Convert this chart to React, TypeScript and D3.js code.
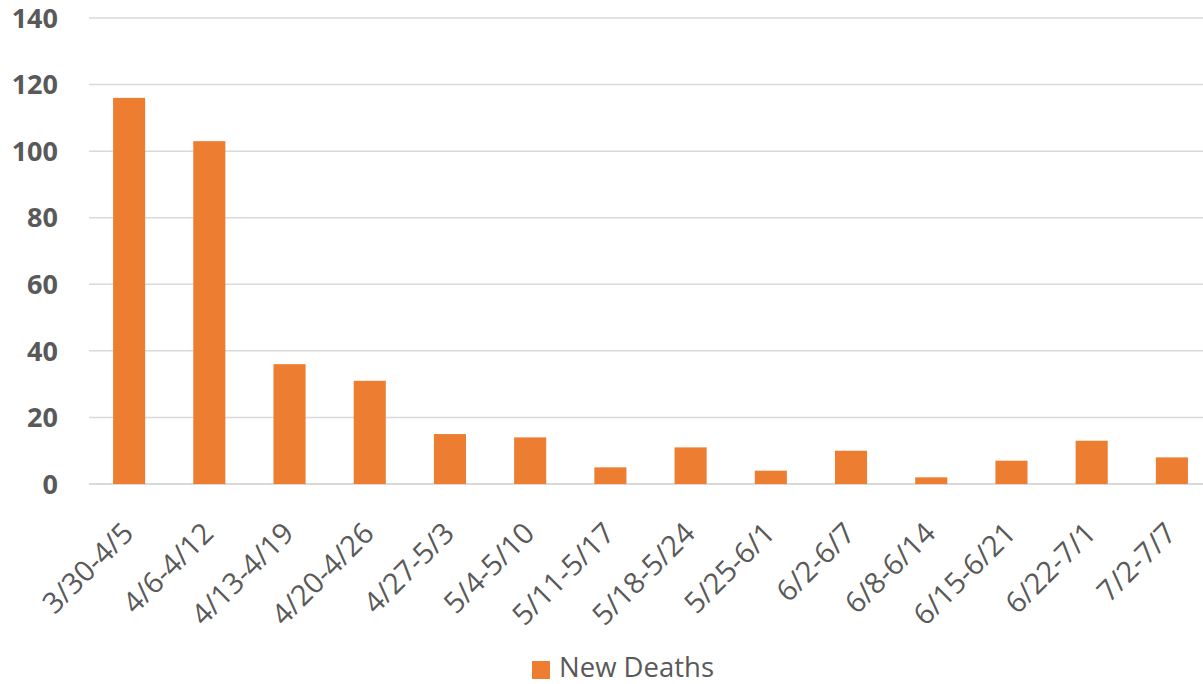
import * as d3 from 'd3';

const categories = [
  '3/30-4/5', '4/6-4/12', '4/13-4/19', '4/20-4/26', '4/27-5/3', '5/4-5/10', '5/11-5/17',
  '5/18-5/24', '5/25-6/1', '6/2-6/7', '6/8-6/14', '6/15-6/21', '6/22-7/1', '7/2-7/7',
];
const newDeaths = [116, 103, 36, 31, 15, 14, 5, 11, 4, 10, 2, 7, 13, 8];
const yTicks = [0, 20, 40, 60, 80, 100, 120, 140];

const W = 1203;
const H = 684;
const FONT = '"Open Sans", "Noto Sans", sans-serif';
const GREY = '#595959';

export default function App() {
  const x = d3.scaleBand<string>().domain(categories).range([89, 1212]).paddingInner(0.6).paddingOuter(0.3);
  const y = d3.scaleLinear().domain([0, 140]).range([484, 18]);

  return (
    <svg width={W} height={H} style={{ position: 'absolute', left: 0, top: 0, background: '#fff' }}>
      {yTicks.map((t) => (
        <g key={t}>
          <line x1={89} x2={1212} y1={y(t)} y2={y(t)} stroke="#d9d9d9" strokeWidth={t === 0 ? 2 : 1.5} />
          <text x={58} y={y(t)} dy="0.36em" textAnchor="end" fontFamily={FONT} fontWeight="bold" fontSize={27} fill={GREY}>
            {t}
          </text>
        </g>
      ))}
      {categories.map((c, i) => (
        <rect key={c} x={x(c)} y={y(newDeaths[i])} width={x.bandwidth()} height={y(0) - y(newDeaths[i])} fill="#ed7d31" />
      ))}
      {categories.map((c) => {
        const cx = (x(c) ?? 0) + x.bandwidth() / 2 + 6;
        return (
          <text key={c} transform={`translate(${cx},${535}) rotate(-45)`} textAnchor="end" fontFamily={FONT} fontSize={29} fill={GREY}>
            {c}
          </text>
        );
      })}
      <rect x={532} y={661} width={18} height={18} fill="#ed7d31" />
      <text x={559} y={677} fontFamily={FONT} fontSize={27.5} fill={GREY}>New Deaths</text>
    </svg>
  );
}
